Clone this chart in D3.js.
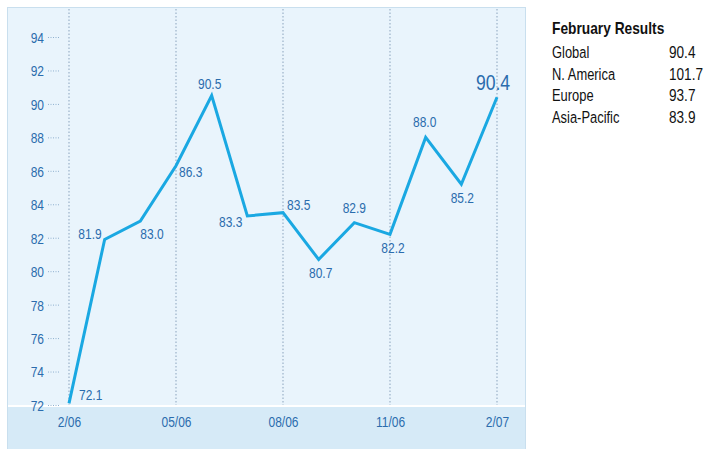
<!DOCTYPE html>
<html>
<head>
<meta charset="utf-8">
<script src="https://cdn.jsdelivr.net/npm/d3@7"></script>
<style>
  html, body { margin: 0; padding: 0; background: #fff; }
  svg { display: block; }
  text { font-family: "Liberation Sans", Arial, sans-serif; }
</style>
</head>
<body>
<div id="chart"></div>
<script>
// data
const months = ['2/06','3/06','4/06','05/06','6/06','7/06','08/06','9/06','10/06','11/06','12/06','1/07','2/07'];
const values = [72.1, 81.9, 83.0, 86.3, 90.5, 83.3, 83.5, 80.7, 82.9, 82.2, 88.0, 85.2, 90.4];
const quarterTicks = ['2/06','05/06','08/06','11/06','2/07'];
const yTicks = [72, 74, 76, 78, 80, 82, 84, 86, 88, 90, 92, 94];
const legendTitle = 'February Results';
const regions = ['Global', 'N. America', 'Europe', 'Asia-Pacific'];
const regionValues = ['90.4', '101.7', '93.7', '83.9'];

// label offsets from point (dx, dy, anchor)
const lblPos = [
  [10, -3, 'start'], [-3, 0, 'end'], [0, 18, 'start'], [3, 11, 'start'],
  [-2, -7, 'middle'], [-5, 11, 'end'], [4, -3, 'start'], [2, 19, 'middle'],
  [0, -10, 'middle'], [3, 19, 'middle'], [-1, -10, 'middle'], [1, 19, 'middle'],
  [-4, -7, 'middle']
];

const W = 705, H = 449, SX = 0.8;
const svg = d3.select('#chart').append('svg').attr('width', W).attr('height', H);

const x = d3.scalePoint().domain(months).range([69, 497]);
const y = d3.scaleLinear().domain([72, 94]).range([405, 37]);
const blue = '#2b6cad';

// condensed text: squeeze horizontally around its anchor point
const narrow = (sel, px, py, sx = SX) =>
  sel.attr('x', 0).attr('y', 0).attr('transform', (d, i) => `translate(${px(d, i)},${py(d, i)}) scale(${sx},1)`);

// panel
svg.append('rect').attr('x', 7.5).attr('y', 7.5).attr('width', 518).attr('height', 442)
  .attr('fill', '#e9f4fc').attr('stroke', '#c9dfee');
svg.append('rect').attr('x', 8).attr('y', 407).attr('width', 517).attr('height', 42)
  .attr('fill', '#d6eaf7');
svg.append('line').attr('x1', 8).attr('x2', 525).attr('y1', 406).attr('y2', 406)
  .attr('stroke', '#fff').attr('stroke-width', 2);

// vertical dotted gridlines
svg.append('g').selectAll('line').data(quarterTicks).join('line')
  .attr('x1', d => x(d)).attr('x2', d => x(d)).attr('y1', 9).attr('y2', 405)
  .attr('stroke', '#8aa3bd').attr('stroke-width', 1).attr('stroke-dasharray', '1.5,2');

// y axis
const yAxis = d3.axisLeft(y).tickValues(yTicks).tickSize(0).tickPadding(0);
const gy = svg.append('g').attr('transform', 'translate(44,0)').call(yAxis);
gy.select('.domain').remove();
gy.selectAll('text').attr('x', 0).attr('dy', '0.36em').attr('transform', `scale(${SX},1)`)
  .attr('fill', blue).style('font-size', '15px');
gy.selectAll('.tick').append('line')
  .attr('x1', 4).attr('x2', 15).attr('stroke', '#8fb0cf')
  .attr('stroke-dasharray', '1,1.5');

// x axis
const xAxis = d3.axisBottom(x).tickValues(quarterTicks).tickSize(0).tickPadding(0);
const gx = svg.append('g').attr('transform', 'translate(0,427)').call(xAxis);
gx.select('.domain').remove();
gx.selectAll('text').attr('y', 0).attr('dy', 0).attr('transform', `scale(${SX},1)`)
  .attr('fill', blue).style('font-size', '15px');

// line
const line = d3.line().x((d, i) => x(months[i])).y(d => y(d));
svg.append('path').datum(values).attr('d', line)
  .attr('fill', 'none').attr('stroke', '#1aa8e2').attr('stroke-width', 3)
  .attr('stroke-linejoin', 'miter');

// value labels
svg.append('g').selectAll('text').data(values).join('text')
  .call(narrow, (d, i) => x(months[i]) + lblPos[i][0], (d, i) => y(d) + lblPos[i][1])
  .attr('text-anchor', (d, i) => lblPos[i][2])
  .attr('fill', blue)
  .style('font-size', (d, i) => i === values.length - 1 ? '22px' : '15px')
  .text(d => d.toFixed(1));

// legend
const lg = svg.append('g').attr('transform', 'translate(552,0)');
lg.append('text').call(narrow, () => 0, () => 34, 0.86).attr('fill', '#111')
  .style('font-size', '16px').style('font-weight', 'bold').text(legendTitle);
lg.selectAll('.r').data(regions).join('text').attr('class', 'r')
  .call(narrow, () => 0, (d, i) => 58 + i * 21.7, 0.76).attr('fill', '#111')
  .style('font-size', '17px').text(d => d);
lg.selectAll('.v').data(regionValues).join('text').attr('class', 'v')
  .call(narrow, () => 117, (d, i) => 58 + i * 21.7, 0.8).attr('fill', '#111')
  .style('font-size', '17px').text(d => d);
</script>
</body>
</html>
